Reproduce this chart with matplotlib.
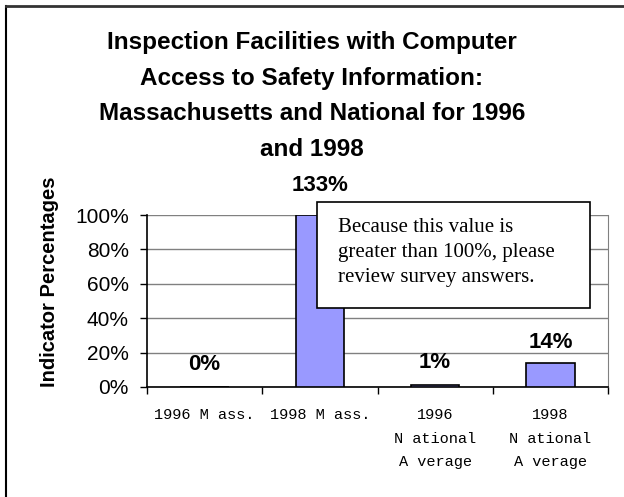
import matplotlib
matplotlib.use("Agg")
import matplotlib.pyplot as plt
from matplotlib.lines import Line2D

# 数据
categories = ["1996 M ass.", "1998 M ass.", "1996\nN ational\nA verage", "1998\nN ational\nA verage"]
values = [0, 133, 1, 14]
labels = ["0%", "133%", "1%", "14%"]
yticks = [0, 20, 40, 60, 80, 100]

W, H = 624, 497
fig = plt.figure(figsize=(W / 100, H / 100), dpi=100)

# 坐标区位置 (像素换算)
x0, x1, y0, y1 = 147, 608, 387, 215
ax = fig.add_axes([x0 / W, 1 - y0 / H, (x1 - x0) / W, (y0 - y1) / H])

pos = list(range(len(values)))
ax.bar(pos, [min(v, 100) for v in values], width=0.42, color="#9999FF",
       edgecolor="black", linewidth=1.2, zorder=3)
ax.set_xlim(-0.5, 3.5)
ax.set_ylim(0, 100)

ax.set_yticks(yticks)
ax.set_yticklabels([f"{t}%" for t in yticks], fontsize=15, family="Liberation Sans")
ax.yaxis.grid(True, color="#808080", linewidth=1, zorder=0)
ax.set_axisbelow(True)

ax.set_xticks([p - 0.5 for p in pos] + [3.5])
ax.set_xticklabels([])
ax.set_xticks(pos, minor=True)
ax.set_xticklabels(categories, minor=True, family="Liberation Mono", fontsize=11,
                   linespacing=1.88, va="top")
ax.tick_params(axis="x", which="minor", length=0, pad=15)
ax.tick_params(axis="x", which="major", length=5, width=1)
ax.tick_params(axis="y", length=5, width=1, pad=8)

ax.spines["top"].set_visible(False)
ax.spines["right"].set_color("#808080")
ax.spines["left"].set_linewidth(1.2)
ax.spines["bottom"].set_linewidth(1.2)

ax.set_ylabel("Indicator Percentages", fontsize=14.5, fontweight="bold",
              family="Liberation Sans")
ax.yaxis.set_label_coords(-0.191, 0.61)

# 数值标签
offsets = [7, 0, 7, 6]
for p, v, lab, off in zip(pos, values, labels, offsets):
    if v > 100:
        ax.text(p, 111, lab, ha="center", va="bottom", fontsize=16, fontweight="bold",
                family="Liberation Sans", clip_on=False)
    else:
        ax.text(p, v + off, lab, ha="center", va="bottom", fontsize=16, fontweight="bold",
                family="Liberation Sans")

# 注释框
fig.text(338 / W, 1 - 218 / H,
         "Because this value is\ngreater than 100%, please\nreview survey answers.",
         ha="left", va="top", fontsize=15, family="Liberation Serif", linespacing=1.42,
         zorder=5)
box = plt.Rectangle((317 / W, 1 - 308 / H), (590 - 317) / W, (308 - 202) / H,
                    transform=fig.transFigure, facecolor="white", edgecolor="black",
                    linewidth=1.2, zorder=4)
fig.patches.append(box)

# 标题
fig.text(312 / W, 1 - 96 / H,
         "Inspection Facilities with Computer\nAccess to Safety Information:\n"
         "Massachusetts and National for 1996\nand 1998",
         ha="center", va="center", fontsize=17.5, fontweight="bold",
         family="Liberation Sans", linespacing=1.7)

# 外框
fig.add_artist(Line2D([6 / W, 6 / W], [0, 1 - 6 / H], color="black", linewidth=1.5))
fig.add_artist(Line2D([6 / W, 1], [1 - 6 / H, 1 - 6 / H], color="#333333", linewidth=2))

fig.savefig("out.png", dpi=100)
